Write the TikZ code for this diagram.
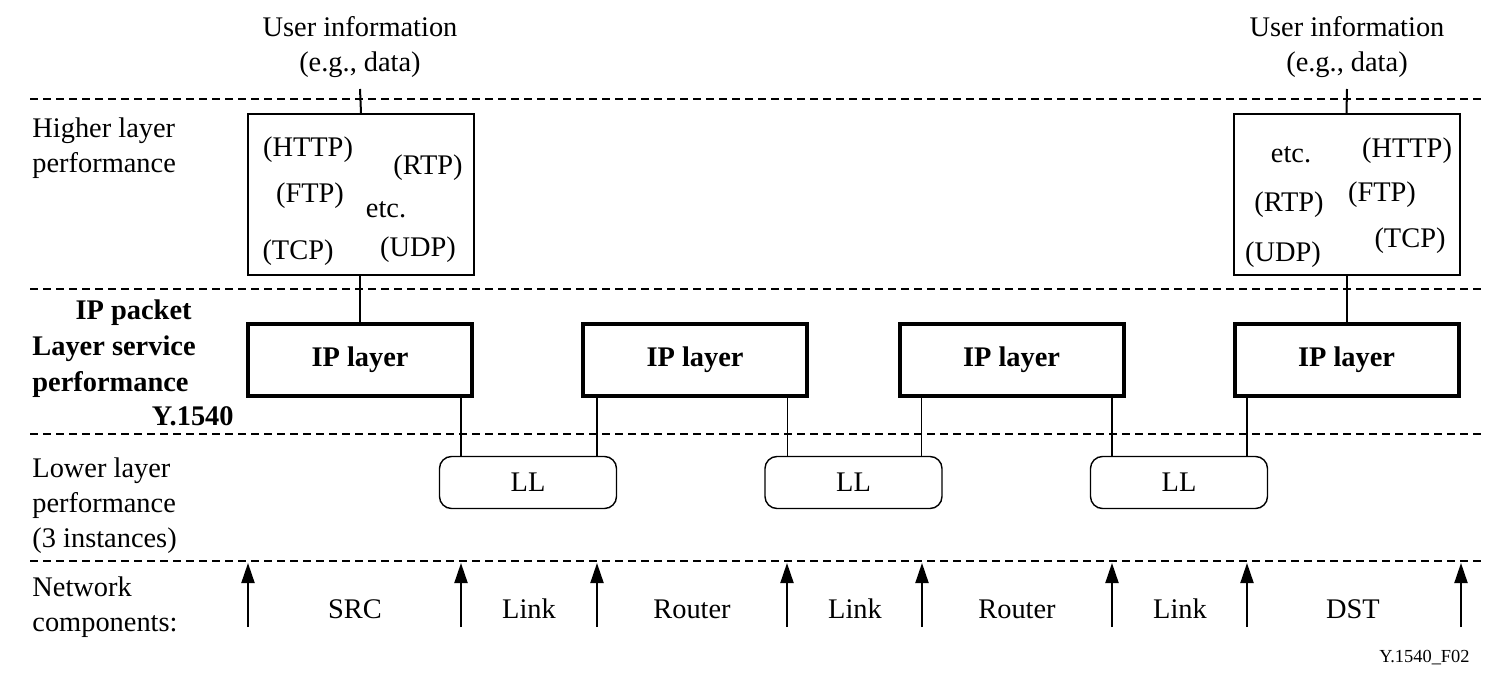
\documentclass[tikz,border=0pt]{standalone}
\usepackage{fontspec}
\setmainfont{Liberation Serif}
\usetikzlibrary{arrows.meta,positioning}

\begin{document}
\begin{tikzpicture}[x=0.5pt, y=-0.5pt,
  txt/.style={inner sep=0pt, anchor=base, font=\fontsize{14.2}{17.5}\selectfont},
  hlbox/.style={draw, line width=1pt, minimum width=113pt, minimum height=80.5pt, inner sep=0pt},
  iplayer/.style={draw, line width=2pt, minimum width=112pt, minimum height=36pt, inner sep=0pt, font=\fontsize{14.2}{17.5}\selectfont\bfseries},
  llbox/.style={draw, line width=0.7pt, rounded corners=6pt, minimum width=88.5pt, minimum height=26pt, inner sep=0pt, font=\fontsize{14.2}{17.5}\selectfont},
  sep/.style={line width=0.7pt, dash pattern=on 4pt off 2.5pt},
  up/.style={line width=1pt, -{Triangle[length=10pt, width=6.5pt]}}]
\useasboundingbox (0,0) rectangle (1501,684);

% Layer separators
\draw[sep] (30,99) -- (1483,99);
\draw[sep] (30,289) -- (1483,289);
\draw[sep] (30,434) -- (1483,434);
\draw[sep] (30,561) -- (1483,561);

% Left column labels (base = last line)
\node[txt, anchor=base west, align=left] (hlLbl) at (32,173) {Higher layer\\performance};
\node[txt, anchor=base east, font=\fontsize{14.2}{17.5}\selectfont\bfseries] (ipLbl1) at (192,320) {IP packet};
\node[txt, anchor=base west, font=\fontsize{14.2}{17.5}\selectfont\bfseries] (ipLbl2) at (32,356) {Layer service};
\node[txt, anchor=base west, font=\fontsize{14.2}{17.5}\selectfont\bfseries] (ipLbl3) at (32,392) {performance};
\node[txt, anchor=base east, font=\fontsize{14.2}{17.5}\selectfont\bfseries] (ipLbl4) at (234,426) {Y.1540};
\node[txt, anchor=base west, align=left] (llLbl) at (32,547) {Lower layer\\performance\\(3 instances)};
\node[txt, anchor=base west, align=left] (ncLbl) at (32,632) {Network\\components:};

% User information
\node[txt, align=center] (userL) at (360,72) {User information\\(e.g., data)};
\node[txt, align=center] (userR) at (1347,72) {User information\\(e.g., data)};
\coordinate (tickL) at (360,89);
\coordinate (tickR) at (1347,89);

% Higher layer boxes
\node[hlbox] (hlL) at (361,194.5) {};
\node[txt] (httpL) at (308,157) {(HTTP)};
\node[txt] (rtpL) at (428,175) {(RTP)};
\node[txt] (ftpL) at (310,203) {(FTP)};
\node[txt] (etcL) at (386,218) {etc.};
\node[txt] (tcpL) at (298,260) {(TCP)};
\node[txt] (udpL) at (418,257) {(UDP)};

\node[hlbox] (hlR) at (1346.5,194.5) {};
\node[txt] (etcR) at (1291,163) {etc.};
\node[txt] (httpR) at (1407,158) {(HTTP)};
\node[txt] (ftpR) at (1382,202) {(FTP)};
\node[txt] (rtpR) at (1289,212) {(RTP)};
\node[txt] (tcpR) at (1410,248) {(TCP)};
\node[txt] (udpR) at (1283,262) {(UDP)};

% IP layer boxes
\node[iplayer] (ipA) at (360,360) {IP layer};
\node[iplayer] (ipB) at (695,360) {IP layer};
\node[iplayer] (ipC) at (1011.5,360) {IP layer};
\node[iplayer] (ipD) at (1346.5,360) {IP layer};

% Lower layer boxes
\node[llbox] (llA) at (528,482.5) {LL};
\node[llbox] (llB) at (853.5,482.5) {LL};
\node[llbox] (llC) at (1179,482.5) {LL};

% Vertical connections
\draw[line width=1pt] (tickL) -- (hlL.north);
\draw[line width=1pt] (tickR) -- (hlR.north);
\draw[line width=1pt] (hlL.south -| ipA.north) -- (ipA.north);
\draw[line width=1pt] (hlR.south) -- (hlR.south |- ipD.north);

\draw[line width=0.75pt] ([xshift=-33.5pt]llA.north) -- ([xshift=-33.5pt]llA.north |- ipA.south);
\draw[line width=0.75pt] ([xshift=34.5pt]llA.north) -- ([xshift=34.5pt]llA.north |- ipB.south);
\draw[line width=0.75pt] ([xshift=-33pt]llB.north) -- ([xshift=-33pt]llB.north |- ipB.south);
\draw[line width=0.75pt] ([xshift=34pt]llB.north) -- ([xshift=34pt]llB.north |- ipC.south);
\draw[line width=0.75pt] ([xshift=-33.5pt]llC.north) -- ([xshift=-33.5pt]llC.north |- ipC.south);
\draw[line width=0.75pt] ([xshift=34pt]llC.north) -- ([xshift=34pt]llC.north |- ipD.south);

% Network component boundaries
\draw[up] (248,627) -- (248,563);
\draw[up] (461,627) -- (461,563);
\draw[up] (597,627) -- (597,563);
\draw[up] (787,627) -- (787,563);
\draw[up] (922,627) -- (922,563);
\draw[up] (1112,627) -- (1112,563);
\draw[up] (1247,627) -- (1247,563);
\draw[up] (1461,627) -- (1461,563);

% Network components
\node[txt] (src) at (355,618) {SRC};
\node[txt] (link1) at (529,618) {Link};
\node[txt] (router1) at (692,618) {Router};
\node[txt] (link2) at (855,618) {Link};
\node[txt] (router2) at (1017,618) {Router};
\node[txt] (link3) at (1180,618) {Link};
\node[txt] (dst) at (1353,618) {DST};

\node[inner sep=0pt, anchor=base east, font=\fontsize{9.2}{11}\selectfont] (figId) at (1470,662) {Y.1540\_F02};
\end{tikzpicture}
\end{document}
